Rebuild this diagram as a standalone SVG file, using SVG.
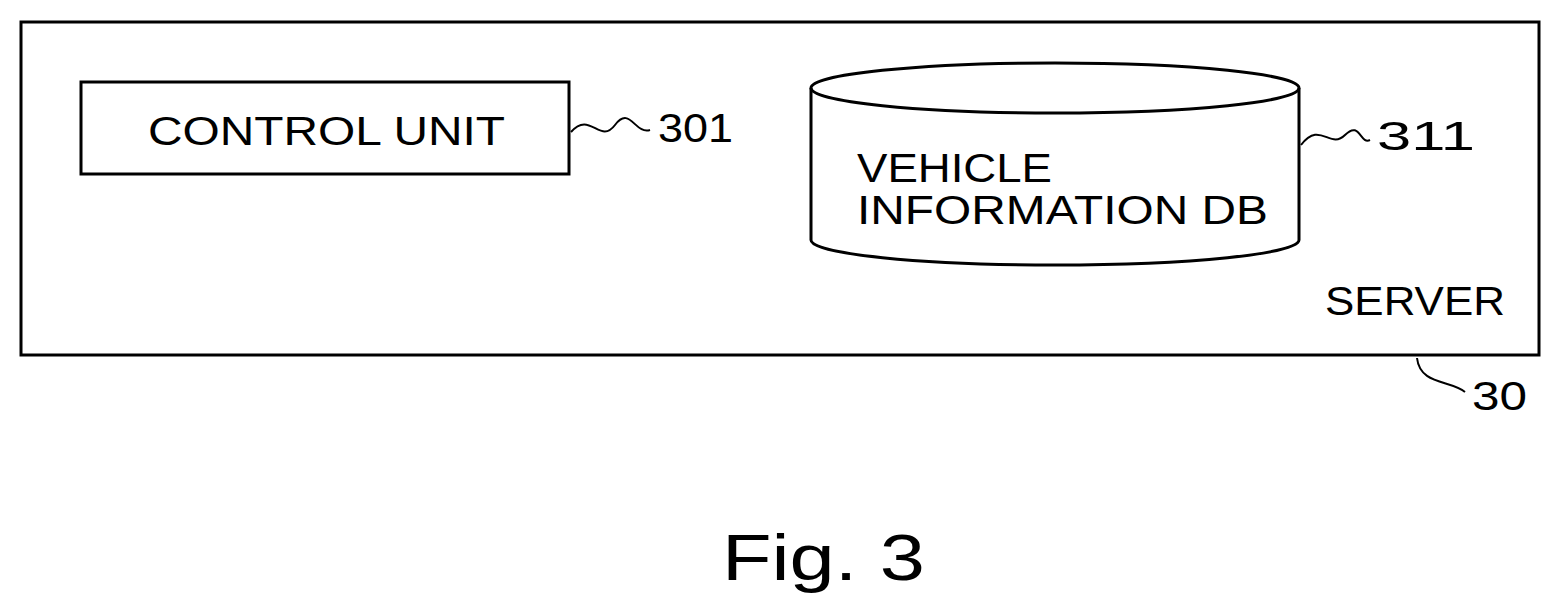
<svg xmlns="http://www.w3.org/2000/svg" width="1563" height="613" viewBox="0 0 1563 613">
<style>
.s{fill:none;stroke:#000;stroke-width:3}
.t{font-family:"Liberation Sans",Arial,sans-serif;font-size:40px;fill:#000}
.l{fill:none;stroke:#000;stroke-width:2}
</style>
<rect width="1563" height="613" fill="#fff"/>
<g id="server"><rect class="s" x="21" y="22" width="1518" height="333"/>
<text class="t" x="1325" y="315" textLength="180" lengthAdjust="spacingAndGlyphs">SERVER</text></g>
<g id="control"><rect class="s" x="81" y="82" width="488" height="92"/>
<text class="t" x="148" y="145" textLength="357" lengthAdjust="spacingAndGlyphs">CONTROL UNIT</text></g>
<g id="db"><path class="s" d="M811,88 L811,240 A244,25 0 0 0 1299,240 L1299,88"/>
<ellipse class="s" cx="1055" cy="88" rx="244" ry="25"/>
<text class="t" x="857" y="182" textLength="195" lengthAdjust="spacingAndGlyphs">VEHICLE</text>
<text class="t" x="857" y="224" textLength="411" lengthAdjust="spacingAndGlyphs">INFORMATION DB</text></g>
<g id="connectors">
<path class="l" d="M571,132 C590,110 600,145 615,125 S635,135 650,130"/>
<path class="l" d="M1301,145 C1320,120 1330,150 1345,135 S1360,145 1370,140"/>
<path class="l" d="M1417,358 C1420,385 1450,380 1465,392"/>
</g>
<text class="t" x="658" y="142" textLength="75" lengthAdjust="spacingAndGlyphs">301</text>
<text class="t" x="1377" y="150" textLength="98" lengthAdjust="spacingAndGlyphs">311</text>
<text class="t" x="1472" y="410" textLength="55" lengthAdjust="spacingAndGlyphs">30</text>
<text class="t" x="722" y="580" style="font-size:64px" textLength="203" lengthAdjust="spacingAndGlyphs">Fig. 3</text>
</svg>
